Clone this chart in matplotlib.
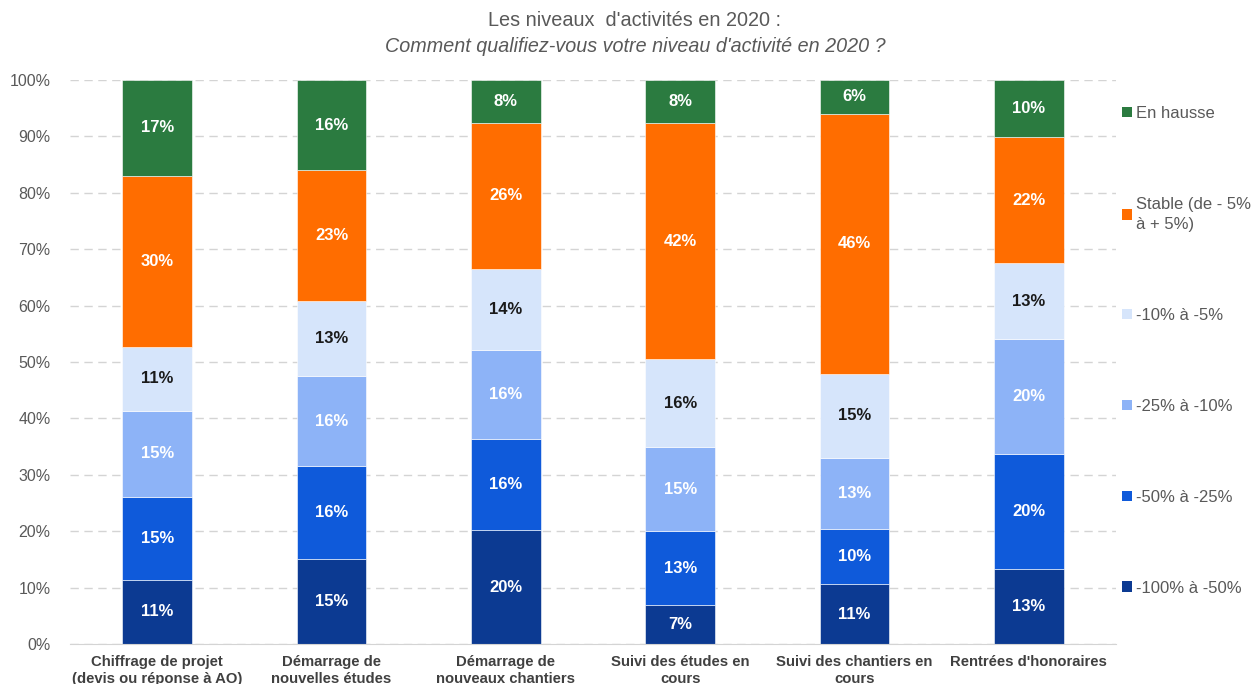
import matplotlib.pyplot as plt
from matplotlib.patches import Patch
import numpy as np

plt.rcParams['font.family'] = ['Liberation Sans', 'DejaVu Sans']

categories = ["Chiffrage de projet\n(devis ou réponse à AO)",
              "Démarrage de\nnouvelles études",
              "Démarrage de\nnouveaux chantiers",
              "Suivi des études en\ncours",
              "Suivi des chantiers en\ncours",
              "Rentrées d'honoraires"]

series_names = ["-100% à -50%", "-50% à -25%", "-25% à -10%",
                "-10% à -5%", "Stable (de - 5%\nà + 5%)", "En hausse"]

baisse_100_50 = [11.4, 15.1, 20.2, 6.9, 10.6, 13.3]
baisse_50_25 = [14.7, 16.4, 16.1, 13.1, 9.8, 20.4]
baisse_25_10 = [15.2, 16.0, 15.8, 14.9, 12.6, 20.4]
baisse_10_5 = [11.4, 13.4, 14.4, 15.6, 14.9, 13.4]
stable = [30.3, 23.1, 25.9, 41.9, 46.1, 22.4]
hausse = [17.0, 16.0, 7.6, 7.6, 6.0, 10.1]

colors = ["#0C3A92", "#0F5ADA", "#8DB3F7", "#D6E5FB", "#FF6D00", "#2B7B40"]
label_colors = ["white", "white", "white", "#1a1a1a", "white", "white"]

data = [baisse_100_50, baisse_50_25, baisse_25_10, baisse_10_5, stable, hausse]

fig = plt.figure(figsize=(12.54, 6.84), dpi=100)
ax = fig.add_axes([70 / 1254, 1 - 644 / 684, 1046 / 1254, 564 / 684])

x = np.arange(len(categories))
bottom = np.zeros(len(categories))
for vals, col, lc in zip(data, colors, label_colors):
    vals = np.array(vals)
    ax.bar(x, vals, 0.4, bottom=bottom, color=col, edgecolor="white",
           linewidth=0.4, zorder=3)
    for xi, b, v in zip(x, bottom, vals):
        ax.text(xi, b + v / 2, "%d%%" % round(v), ha="center", va="center",
                color=lc, fontsize=12, fontweight="bold", zorder=4)
    bottom += vals

ax.set_xlim(-0.5, len(categories) - 0.5)
ax.set_ylim(0, 100)
ax.set_yticks(np.arange(0, 101, 10))
ax.set_yticklabels(["%d%%" % t for t in range(0, 101, 10)])
ax.yaxis.grid(True, color="#D4D4D4", linestyle=(0, (6, 4)), linewidth=1, zorder=0)
ax.tick_params(axis="y", length=0, pad=14, labelsize=11.5, labelcolor="#595959")
ax.set_xticks(x)
ax.set_xticklabels(categories, fontsize=10.7, fontweight="bold", color="#404040",
                   linespacing=1.3)
ax.tick_params(axis="x", length=0, pad=8)
for s in ["top", "right", "left"]:
    ax.spines[s].set_visible(False)
ax.spines["bottom"].set_color("#D4D4D4")
ax.spines["bottom"].set_zorder(5)

handles = [Patch(facecolor=c, edgecolor="none") for c in colors]
leg = fig.legend(handles[::-1], series_names[::-1], loc="upper left",
                 bbox_to_anchor=(1122 / 1254, 1 - 106 / 684), frameon=False,
                 fontsize=12, labelspacing=4.55, handlelength=0.6,
                 handleheight=0.6, handletextpad=0.25, borderpad=0,
                 borderaxespad=0)
for t in leg.get_texts():
    t.set_color("#595959")
    t.set_linespacing(1.45)

fig.text(0.506, 1 - 20 / 684, "Les niveaux  d'activités en 2020 :", ha="center",
         va="center", fontsize=14.3, color="#595959")
fig.text(0.507, 1 - 46 / 684, "Comment qualifiez-vous votre niveau d'activité en 2020 ?",
         ha="center", va="center", fontsize=14.2, color="#595959", style="italic")

fig.savefig("out.png", dpi=100)
